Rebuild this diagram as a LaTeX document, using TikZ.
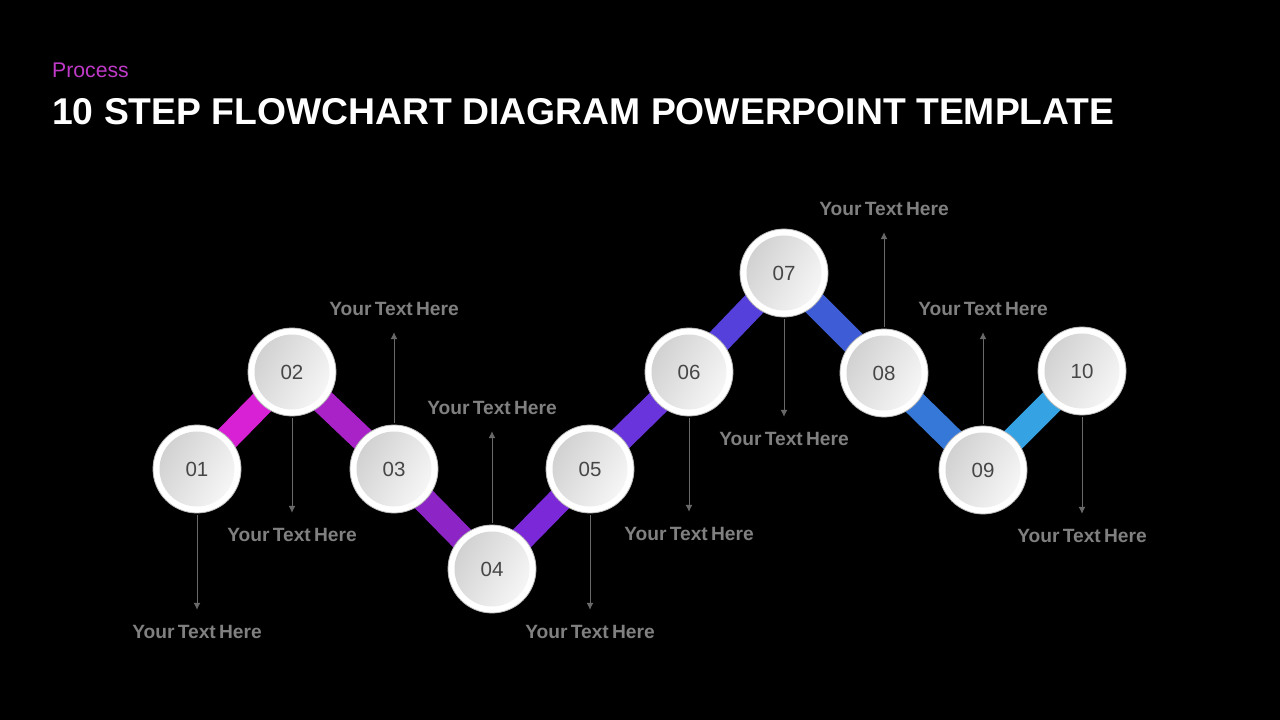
\documentclass[tikz,border=0pt]{standalone}
\usepackage{fontspec}
\setmainfont{Liberation Sans}
\usetikzlibrary{arrows.meta}
\newfontfamily\lblfont{Liberation Sans}[WordSpace=0.6]
\definecolor{procmag}{RGB}{192,58,200}
\definecolor{lblgray}{RGB}{128,128,128}
\definecolor{arrgray}{RGB}{105,105,105}
\definecolor{numgray}{RGB}{70,70,70}
\definecolor{barA}{RGB}{216,32,212}
\definecolor{barB}{RGB}{168,34,200}
\definecolor{barC}{RGB}{140,36,198}
\definecolor{barD}{RGB}{122,40,216}
\definecolor{barE}{RGB}{106,52,221}
\definecolor{barF}{RGB}{86,64,220}
\definecolor{barG}{RGB}{62,92,214}
\definecolor{barH}{RGB}{53,120,216}
\definecolor{barI}{RGB}{53,163,227}
\pgfdeclarelayer{bg}
\pgfdeclarelayer{bars}
\pgfsetlayers{bg,bars,main}
\tikzset{
  stepcircle/.style={circle, minimum size=88pt, inner sep=0pt, fill=white,
    draw=gray!55, line width=0.8pt,
    font=\fontsize{20.5}{24}\selectfont, text=numgray,
    path picture={\shade[left color=gray!38, right color=gray!5, shading angle=60]
      (path picture bounding box.center) circle (37.5pt);}},
  lbl/.style={font=\lblfont\bfseries\fontsize{19.2}{23}\selectfont, text=lblgray,
    inner sep=0pt, text height=14pt, text depth=4pt, anchor=base},
  bar/.style={line width=25pt},
  arrdown/.style={draw=arrgray, line width=1pt, -{Latex[length=7pt,width=7pt]},
    shorten <=2pt, shorten >=14pt},
  arrup/.style={draw=arrgray, line width=1pt, -{Latex[length=7pt,width=7pt]},
    shorten <=2pt, shorten >=13pt}
}
\begin{document}
\begin{tikzpicture}[x=1pt,y=-1pt]
\begin{pgfonlayer}{bg}
\fill[black] (0,0) rectangle (1280,720);
\end{pgfonlayer}
\useasboundingbox (0,0) rectangle (1280,720);

\node[anchor=base west, inner sep=0pt, text=procmag, font=\fontsize{21.2}{25}\selectfont] (proc) at (52,77) {Process};
\node[anchor=base west, inner sep=0pt, text=white, font=\bfseries\fontsize{37.3}{42}\selectfont] (title) at (52,124) {10 STEP FLOWCHART DIAGRAM POWERPOINT TEMPLATE};

\node[stepcircle] (c1) at (197,469) {01};
\node[stepcircle] (c2) at (292,372) {02};
\node[stepcircle] (c3) at (394,469) {03};
\node[stepcircle] (c4) at (492,569) {04};
\node[stepcircle] (c5) at (590,469) {05};
\node[stepcircle] (c6) at (689,372) {06};
\node[stepcircle] (c7) at (784,273) {07};
\node[stepcircle] (c8) at (884,373) {08};
\node[stepcircle] (c9) at (983,470) {09};
\node[stepcircle] (c10) at (1082,371) {10};

\begin{pgfonlayer}{bars}
\draw[bar, barA] (c1.center) -- (c2.center);
\draw[bar, barB] (c2.center) -- (c3.center);
\draw[bar, barC] (c3.center) -- (c4.center);
\draw[bar, barD] (c4.center) -- (c5.center);
\draw[bar, barE] (c5.center) -- (c6.center);
\draw[bar, barF] (c6.center) -- (c7.center);
\draw[bar, barG] (c7.center) -- (c8.center);
\draw[bar, barH] (c8.center) -- (c9.center);
\draw[bar, barI] (c9.center) -- (c10.center);
\end{pgfonlayer}

\node[lbl] (t1) at (197,638) {Your Text Here};
\node[lbl] (t2) at (292,541) {Your Text Here};
\node[lbl] (t3) at (394,315) {Your Text Here};
\node[lbl] (t4) at (492,414) {Your Text Here};
\node[lbl] (t5) at (590,638) {Your Text Here};
\node[lbl] (t6) at (689,540) {Your Text Here};
\node[lbl] (t7) at (784,445) {Your Text Here};
\node[lbl] (t8) at (884,215) {Your Text Here};
\node[lbl] (t9) at (983,315) {Your Text Here};
\node[lbl] (t10) at (1082,542) {Your Text Here};

\draw[arrdown] (c1.south) -- (t1.north);
\draw[arrdown] (c2.south) -- (t2.north);
\draw[arrup] (c3.north) -- (t3.south);
\draw[arrup] (c4.north) -- (t4.south);
\draw[arrdown] (c5.south) -- (t5.north);
\draw[arrdown] (c6.south) -- (t6.north);
\draw[arrdown] (c7.south) -- (t7.north);
\draw[arrup] (c8.north) -- (t8.south);
\draw[arrup] (c9.north) -- (t9.south);
\draw[arrdown] (c10.south) -- (t10.north);
\end{tikzpicture}
\end{document}
